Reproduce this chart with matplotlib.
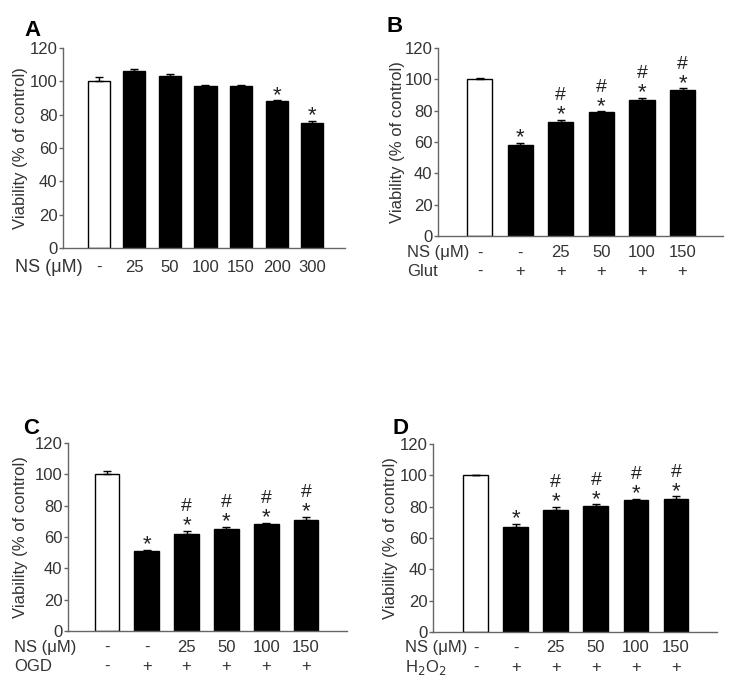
import numpy as np
import matplotlib
matplotlib.use('Agg')
import matplotlib.pyplot as plt

plt.rcParams['font.family'] = ['Liberation Sans', 'DejaVu Sans']
plt.rcParams['text.color'] = '#333333'
plt.rcParams['axes.labelcolor'] = '#333333'
plt.rcParams['xtick.color'] = '#333333'
plt.rcParams['ytick.color'] = '#333333'

# --- data ---
a_values = [100, 106, 103, 97, 97, 88, 75]
a_errors = [2.5, 1.5, 1.5, 1.0, 0.6, 0.6, 1.5]
a_ns = ['-', '25', '50', '100', '150', '200', '300']
a_star = [0, 0, 0, 0, 0, 1, 1]

b_values = [100, 58, 73, 79, 87, 93]
b_errors = [1.0, 1.5, 1.2, 0.6, 1.2, 1.2]
b_star = [0, 1, 1, 1, 1, 1]
b_hash = [0, 0, 1, 1, 1, 1]

c_values = [100, 51, 62, 65, 68, 71]
c_errors = [2.0, 1.0, 2.0, 1.5, 1.0, 1.8]
c_star = [0, 1, 1, 1, 1, 1]
c_hash = [0, 0, 1, 1, 1, 1]

d_values = [100, 67, 78, 80.5, 84, 85]
d_errors = [0.5, 2.0, 2.0, 1.0, 1.0, 1.5]
d_star = [0, 1, 1, 1, 1, 1]
d_hash = [0, 0, 1, 1, 1, 1]

ns_labels = ['-', '-', '25', '50', '100', '150']
treat_labels = ['-', '+', '+', '+', '+', '+']


def draw_panel(ax, values, errors, stars, hashes, xlim, ylab_x):
    x = np.arange(len(values))
    colors = ['white'] + ['black'] * (len(values) - 1)
    ax.bar(x, values, width=0.62, color=colors, edgecolor='black', linewidth=1)
    ax.errorbar(x, values, yerr=[np.zeros(len(values)), errors], fmt='none',
                ecolor='black', elinewidth=1, capsize=3, capthick=1)
    for i in range(len(values)):
        top = values[i] + errors[i]
        if stars[i]:
            ax.text(x[i], top - 3.5, '*', ha='center', va='bottom', fontsize=16, color='#222222')
        if hashes and hashes[i]:
            ax.text(x[i], top + 10, '#', ha='center', va='bottom', fontsize=14, color='#222222')
    ax.set_xlim(*xlim)
    ax.set_ylim(0, 120)
    ax.set_yticks(range(0, 121, 20))
    ax.set_xticks([])
    ax.tick_params(axis='y', labelsize=12, length=3, width=1, color='#666666', pad=1)
    for s in ['top', 'right']:
        ax.spines[s].set_visible(False)
    for s in ['left', 'bottom']:
        ax.spines[s].set_color('#666666')
        ax.spines[s].set_linewidth(1)
    ax.set_ylabel('Viability (% of control)', fontsize=12)
    ax.yaxis.set_label_coords(ylab_x, 0.5)


fig = plt.figure(figsize=(7.29, 6.91), dpi=100)

# Panel A
axA = fig.add_axes([0.0864, 0.641, 0.387, 0.2894])
draw_panel(axA, a_values, a_errors, a_star, None, (-1.0, 6.92), -0.124)
for i, lab in enumerate(a_ns):
    axA.text(i, -0.095, lab, transform=axA.get_xaxis_transform(), ha='center', va='center', fontsize=12)
axA.text(-0.17, -0.095, 'NS (μM)', transform=axA.transAxes, ha='left', va='center', fontsize=13)
fig.text(24 / 729, 1 - 30 / 691, 'A', fontsize=16, fontweight='bold', color='black', va='center', ha='left')

# Panel B
axB = fig.add_axes([0.601, 0.6585, 0.391, 0.272])
draw_panel(axB, b_values, b_errors, b_star, b_hash, (-1.02, 6.0), -0.116)
for i in range(6):
    axB.text(i, -0.09, ns_labels[i], transform=axB.get_xaxis_transform(), ha='center', va='center', fontsize=12)
    axB.text(i, -0.19, treat_labels[i], transform=axB.get_xaxis_transform(), ha='center', va='center', fontsize=12)
axB.text(-0.109, -0.09, 'NS (μM)', transform=axB.transAxes, ha='left', va='center', fontsize=12)
axB.text(-0.109, -0.19, 'Glut', transform=axB.transAxes, ha='left', va='center', fontsize=12)
fig.text(387 / 729, 1 - 27 / 691, 'B', fontsize=16, fontweight='bold', color='black', va='center', ha='left')

# Panel C
axC = fig.add_axes([0.0933, 0.0868, 0.3827, 0.2722])
draw_panel(axC, c_values, c_errors, c_star, c_hash, (-0.98, 6.03), -0.143)
for i in range(6):
    axC.text(i, -0.085, ns_labels[i], transform=axC.get_xaxis_transform(), ha='center', va='center', fontsize=12)
    axC.text(i, -0.19, treat_labels[i], transform=axC.get_xaxis_transform(), ha='center', va='center', fontsize=12)
axC.text(-0.194, -0.085, 'NS (μM)', transform=axC.transAxes, ha='left', va='center', fontsize=12)
axC.text(-0.194, -0.19, 'OGD', transform=axC.transAxes, ha='left', va='center', fontsize=12)
fig.text(23 / 729, 1 - 428 / 691, 'C', fontsize=16, fontweight='bold', color='black', va='center', ha='left')

# Panel D
axD = fig.add_axes([0.594, 0.0854, 0.3895, 0.2721])
draw_panel(axD, d_values, d_errors, d_star, d_hash, (-1.06, 6.02), -0.123)
for i in range(6):
    axD.text(i, -0.085, ns_labels[i], transform=axD.get_xaxis_transform(), ha='center', va='center', fontsize=12)
    axD.text(i, -0.19, treat_labels[i], transform=axD.get_xaxis_transform(), ha='center', va='center', fontsize=12)
axD.text(-0.099, -0.085, 'NS (μM)', transform=axD.transAxes, ha='left', va='center', fontsize=12)
axD.text(-0.099, -0.19, 'H$_2$O$_2$', transform=axD.transAxes, ha='left', va='center', fontsize=12)
fig.text(392 / 729, 1 - 428 / 691, 'D', fontsize=16, fontweight='bold', color='black', va='center', ha='left')

fig.savefig('out.png', dpi=100)
